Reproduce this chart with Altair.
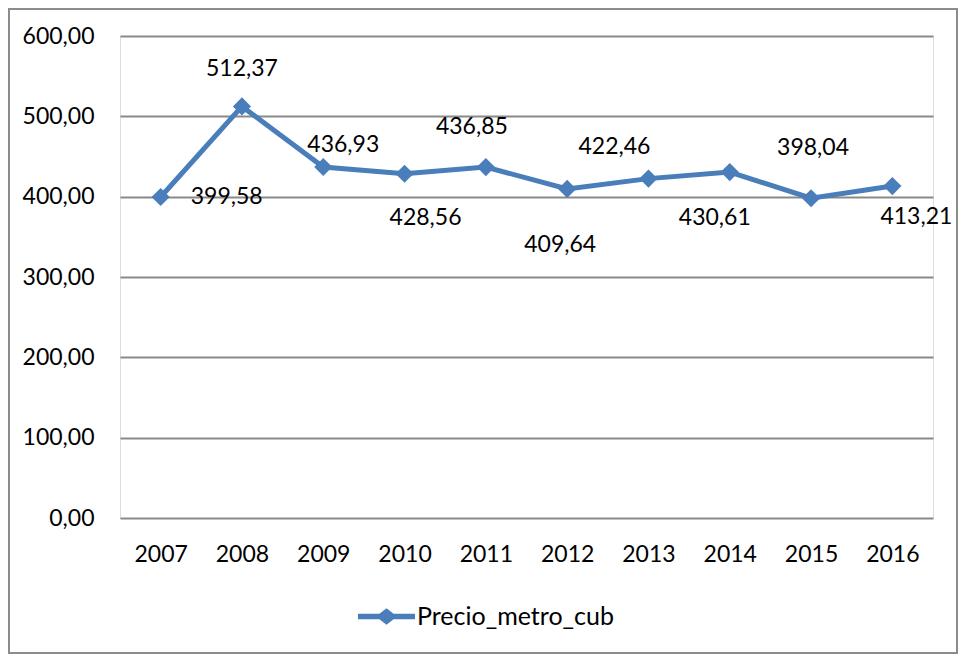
import altair as alt
import pandas as pd

years = ["2007", "2008", "2009", "2010", "2011", "2012", "2013", "2014", "2015", "2016"]
values = [399.58, 512.37, 436.93, 428.56, 436.85, 409.64, 422.46, 430.61, 398.04, 413.21]
series = "Precio_metro_cub"
y_ticks = [0, 100, 200, 300, 400, 500, 600]

# label offsets (pixels, style only)
label_dx = [66, 0, 20, 21, -14, -7, -34, -15, 2, 24]
label_dy = [0, -37, -22, 44, -40, 56, -32, 46, -50, 31]

df = pd.DataFrame({"year": years, "value": values, "series": [series] * len(years)})

FONT = "Lato"
FS = 23
BLUE = "#4A7EBB"
GRID = "#898989"
W, H = 813, 482

xenc = alt.X("year:N", title=None, sort=years,
             scale=alt.Scale(paddingInner=0, paddingOuter=0),
             axis=alt.Axis(labelAngle=0, ticks=False, domain=False, labelPadding=25,
                           labelFont=FONT, labelFontSize=FS, labelColor="#000"))
yenc = alt.Y("value:Q", title=None, scale=alt.Scale(domain=[0, 600], nice=False),
             axis=alt.Axis(values=y_ticks, format=".2f", ticks=False, domain=False,
                           labelPadding=26, grid=True, gridColor=GRID, gridWidth=2,
                           labelFont=FONT, labelFontSize=FS, labelColor="#000"))
color = alt.Color("series:N", scale=alt.Scale(range=[BLUE]),
                  legend=alt.Legend(title=None, orient="none", legendX=238, legendY=552,
                                    symbolType="M-1,-0.1 L-0.25,-0.1 L0,-0.29 L0.25,-0.1 L1,-0.1 L1,0.1 L0.25,0.1 L0,0.29 L-0.25,0.1 L-1,0.1 Z",
                                    symbolSize=3249, symbolFillColor=BLUE, symbolStrokeWidth=0,
                                    labelFont=FONT, labelFontSize=25, labelColor="#000",
                                    labelOffset=2, labelLimit=0))

base = alt.Chart(df)
line = base.mark_line(strokeWidth=5, color=BLUE).encode(x=xenc, y=yenc, color=color)
pts = base.mark_point(shape="diamond", filled=True, size=330, opacity=1, color=BLUE).encode(
    x="year:N", y="value:Q", color=alt.Color("series:N", legend=None))

labels = []
for yr, dx, dy in zip(years, label_dx, label_dy):
    labels.append(
        base.transform_filter(alt.datum.year == yr)
        .mark_text(font=FONT, fontSize=FS, color="#000", dx=dx, dy=dy, baseline="middle", align="center")
        .encode(x="year:N", y="value:Q", text=alt.Text("value:Q", format=".2f"))
    )

border = alt.Chart(pd.DataFrame({"a": [0]})).mark_rect(
    fill="white", fillOpacity=0, stroke="#8c8c8c", strokeWidth=2, clip=False
).encode(x=alt.value(-111), x2=alt.value(837), y=alt.value(-27), y2=alt.value(617))

chart = alt.layer(line, pts, *labels, border).properties(
    width=W, height=H,
    autosize=alt.AutoSizeParams(type="none"),
    padding={"left": 112, "top": 28, "right": 25, "bottom": 136},
).configure_view(stroke=None).configure(
    locale={"number": {"decimal": ",", "thousands": ".", "grouping": [3], "currency": ["", " €"]}}
).resolve_scale(color="shared")

chart.save("out.html", embed_options={"renderer": "svg", "actions": False})
